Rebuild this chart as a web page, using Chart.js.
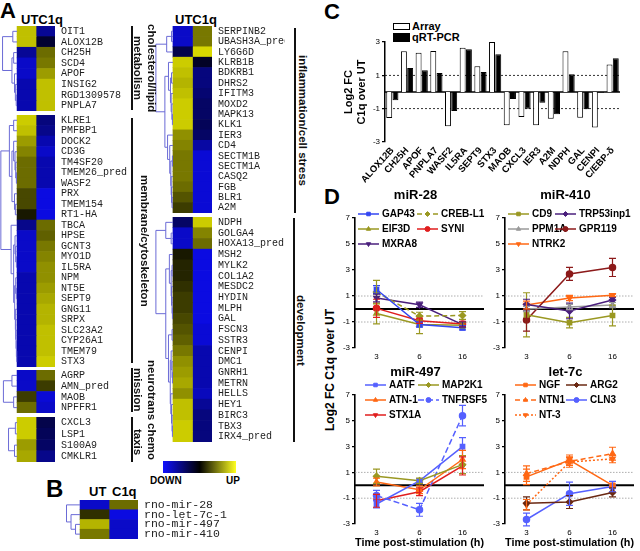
<!DOCTYPE html>
<html>
<head>
<meta charset="utf-8">
<script src="https://cdn.jsdelivr.net/npm/chart.js@4.4.1/dist/chart.umd.min.js"></script>
<style>
  body { margin: 0; background: #fff; width: 640px; height: 551px; position: relative; overflow: hidden; font-family: "Liberation Sans", Arial, sans-serif; color: #000; }
  canvas { position: absolute; }
  .t { position: absolute; font-weight: bold; white-space: nowrap; line-height: 1; color: #000; }
  .letter { font-size: 22px; }
  .vline { position: absolute; width: 2px; background: #111; }
  .vt { position: absolute; writing-mode: vertical-rl; font-weight: bold; font-size: 11.5px; line-height: 14px; text-align: center; white-space: nowrap; color: #111; }
  .box { position: absolute; border: 1px solid #000; }
</style>
</head>
<body>

<!-- Panel A -->
<div class="t letter" style="left:0;top:0;">A</div>
<div class="t" style="left:21px;top:13px;font-size:13px;">UTC1q</div>
<div class="t" style="left:175px;top:13px;font-size:13px;">UTC1q</div>
<canvas id="hmChol" width="135" height="85" style="left:0;top:26px;"></canvas>
<canvas id="hmMemb" width="135" height="252" style="left:0;top:115px;"></canvas>
<canvas id="hmNeuro" width="135" height="43" style="left:0;top:370px;"></canvas>
<canvas id="hmChemo" width="135" height="45" style="left:0;top:417px;"></canvas>
<canvas id="hmInfl" width="130" height="187" style="left:155px;top:26px;"></canvas>
<canvas id="hmDev" width="130" height="225" style="left:155px;top:217px;"></canvas>

<div class="vline" style="left:131px;top:26px;height:84px;"></div>
<div class="vt" style="left:131px;top:16px;height:104px;">cholesterol/lipid<br>metabolism</div>
<div class="vline" style="left:131px;top:118px;height:245px;"></div>
<div class="vt" style="left:138px;top:118px;height:245px;">membrane/cytoskeleton</div>
<div class="vline" style="left:131px;top:368px;height:44px;"></div>
<div class="vt" style="left:131px;top:354px;height:72px;">neurotrans<br>mission</div>
<div class="vline" style="left:131px;top:417px;height:45px;"></div>
<div class="vt" style="left:131px;top:417px;height:50px;">chemo<br>taxis</div>
<div class="vline" style="left:294px;top:28px;height:185px;"></div>
<div class="vt" style="left:296px;top:28px;height:185px;">inflammation/cell stress</div>
<div class="vline" style="left:293px;top:218px;height:224px;"></div>
<div class="vt" style="left:294px;top:218px;height:224px;">development</div>

<div style="position:absolute;left:163px;top:461px;width:73px;height:12px;background:linear-gradient(to right,#1010ff,#000 50%,#ffff20);"></div>
<div class="t" style="left:150px;top:476px;font-size:10px;">DOWN</div>
<div class="t" style="left:226px;top:476px;font-size:10px;">UP</div>

<!-- Panel B -->
<div class="t" style="left:46px;top:477px;font-size:24px;">B</div>
<div class="t" style="left:89px;top:485px;font-size:13px;">UT</div>
<div class="t" style="left:112px;top:485px;font-size:13px;">C1q</div>
<canvas id="hmMirna" width="180" height="39" style="left:65px;top:500px;"></canvas>

<!-- Panel C -->
<div class="t letter" style="left:324px;top:1px;">C</div>
<div class="box" style="left:393px;top:23px;width:15px;height:5px;background:#fff;"></div>
<div class="t" style="left:412px;top:21px;font-size:11px;">Array</div>
<div class="box" style="left:393px;top:33px;width:15px;height:7px;background:#000;"></div>
<div class="t" style="left:412px;top:32px;font-size:11px;">qRT-PCR</div>
<canvas id="chartC" width="300" height="165" style="left:330px;top:18px;"></canvas>

<!-- Panel D -->
<div class="t letter" style="left:324px;top:186px;">D</div>
<div class="t" style="left:323px;top:300px;height:140px;width:14px;writing-mode:vertical-rl;transform:rotate(180deg);text-align:center;font-size:12px;line-height:14px;">Log2 FC C1q over UT</div>
<canvas id="chartMir28" width="155" height="175" style="left:335px;top:185px;"></canvas>
<canvas id="chartMir410" width="155" height="175" style="left:485px;top:185px;"></canvas>
<canvas id="chartMir497" width="155" height="189" style="left:335px;top:362px;"></canvas>
<canvas id="chartLet7c" width="155" height="189" style="left:485px;top:362px;"></canvas>

<script>
// ---- Panel A / B heatmap data (relative expression, -1 = down, 1 = up) ----
const genesChol = ['OIT1', 'ALOX12B', 'CH25H', 'SCD4', 'APOF', 'INSIG2', 'RGD1309578', 'PNPLA7'];
const utChol = [0.8, 0.8, -0.6, -0.8, -0.8, -0.7, -0.7, -0.7];
const c1qChol = [-0.6, -0.2, 0.45, 0.5, 0.65, 0.8, 0.8, 0.8];

const genesMemb = ['KLRE1', 'PMFBP1', 'DOCK2', 'CD3G', 'TM4SF20', 'TMEM26_pred', 'WASF2', 'PRX', 'TMEM154', 'RT1-HA',
  'TBCA', 'HPSE', 'GCNT3', 'MYO1D', 'IL5RA', 'NPM', 'NT5E', 'SEPT9', 'GNG11', 'SRPX', 'SLC23A2', 'CYP26A1', 'TMEM79', 'STX3'];
const utMemb = [0.85, 0.8, 0.65, 0.55, 0.45, 0.45, 0.45, 0.3, 0.3, 0.1,
  -0.55, -0.8, -0.8, -0.8, -0.8, -0.7, -0.7, -0.7, -0.7, -0.7, -0.7, -0.7, -0.7, -0.7];
const c1qMemb = [-0.5, -0.55, -0.7, -0.8, -0.7, -0.7, -0.7, -0.9, -0.9, -0.9,
  0.45, 0.4, 0.5, 0.55, 0.6, 0.6, 0.65, 0.7, 0.75, 0.75, 0.8, 0.8, 0.8, 0.85];

const genesNeuro = ['AGRP', 'AMN_pred', 'MAOB', 'NPFFR1'];
const utNeuro = [-0.8, -0.8, 0.25, 0.45];
const c1qNeuro = [0.45, 0.25, -0.85, -0.8];

const genesChemo = ['CXCL3', 'LSP1', 'S100A9', 'CMKLR1'];
const utChemo = [0.85, 0.85, 0.65, 0.7];
const c1qChemo = [-0.3, -0.35, -0.4, -0.55];

const genesInfl = ['SERPINB2', 'UBASH3A_pred', 'LY6G6D', 'KLRB1B', 'BDKRB1', 'DHRS2', 'IFITM3', 'MOXD2', 'MAPK13',
  'KLK1', 'IER3', 'CD4', 'SECTM1B', 'SECTM1A', 'CASQ2', 'FGB', 'BLR1', 'A2M'];
const utInfl = [-0.8, -0.8, -0.3, 0.85, 0.8, 0.75, 0.8, 0.85, 0.85, 0.85, 0.6, 0.55, 0.5, 0.5, 0.5, 0.45, 0.35, 0.25];
const c1qInfl = [0.5, 0.5, 0.9, -0.15, -0.5, -0.5, -0.45, -0.4, -0.4, -0.35, -0.4, -0.65, -0.85, -0.85, -0.85, -0.85, -0.85, -0.85];

const genesDev = ['NDPH', 'GOLGA4', 'HOXA13_pred', 'MSH2', 'MYLK2', 'COL1A2', 'MESDC2', 'HYDIN', 'MLPH', 'GAL', 'FSCN3',
  'SSTR3', 'CENPI', 'DMC1', 'GNRH1', 'METRN', 'HELLS', 'HEY1', 'BIRC3', 'TBX3', 'IRX4_pred'];
const utDev = [-0.4, -0.8, -0.8, 0.1, 0.15, 0.15, 0.2, 0.25, 0.25, 0.3, 0.35, 0.4, 0.5, 0.6, 0.65, 0.7, 0.6, 0.8, 0.8, 0.85, 0.85];
const c1qDev = [0.85, 0.55, 0.45, -0.9, -0.9, -0.9, -0.9, -0.9, -0.9, -0.9, -0.85, -0.85, -0.7, -0.7, -0.7, -0.7, -0.75, -0.6, -0.5, -0.5, -0.5];

const mirnas = ['rno-mir-28', 'rno-let-7c-1', 'rno-mir-497', 'rno-mir-410'];
const utMirna = [-0.8, 0.2, 0.75, 0.5];
const c1qMirna = [0.45, -0.9, -0.8, -0.8];

// cluster trees: [left, right, height 0..1], leaves are row indices
const treeChol = [[0, 1, 0.25], [[2, 3, 0.2], [4, [5, [6, 7, 0.05], 0.1], 0.15], 0.3], 0.85];
const treeMemb = [
  [[0, 1, 0.2], [[2, [3, [4, [5, 6, 0.04], 0.08], 0.12], 0.2], [7, [8, 9, 0.1], 0.15], 0.3], 0.45],
  [10, [[11, [12, [13, 14, 0.04], 0.08], 0.12], [[15, [16, 17, 0.04], 0.08], [18, [19, [20, [21, [22, 23, 0.02], 0.04], 0.06], 0.08], 0.1], 0.14], 0.2], 0.35],
  0.95];
const treeNeuro = [[0, 1, 0.3], [2, 3, 0.2], 0.8];
const treeChemo = [[0, 1, 0.1], [2, 3, 0.15], 0.5];
const treeInfl = [[[0, 1, 0.08], 2, 0.35],
  [[3, [[4, 5, 0.08], [6, [7, [8, 9, 0.03], 0.06], 0.1], 0.14], 0.25], [10, [11, [[12, 13, 0.03], [14, [15, [16, 17, 0.05], 0.08], 0.1], 0.12], 0.18], 0.3], 0.45],
  0.95];
const treeDev = [[0, [1, 2, 0.1], 0.4],
  [[3, [[4, 5, 0.05], [6, [7, [8, 9, 0.03], 0.05], 0.08], 0.1], 0.2], [[10, 11, 0.05], [[12, [13, [14, 15, 0.03], 0.05], 0.1], [16, [17, [18, [19, 20, 0.03], 0.05], 0.08], 0.12], 0.15], 0.25], 0.4],
  0.95];
const treeMirna = [0, [1, [2, 3, 0.3], 0.6], 0.9];

// ---- Panel C data ----
const validationGenes = ['ALOX12B', 'CH25H', 'APOF', 'PNPLA7', 'WASF2', 'IL5RA', 'SEPT9', 'STX3', 'MAOB', 'CXCL3',
  'IER3', 'A2M', 'NDPH', 'GAL', 'CENPI', 'C/EBP-\u03b4'];
const arrayFC = [-1.56, 2.44, 2.36, 2.46, -2.06, 2.66, 1.55, 3.0, -2.0, -1.5, -2.0, -1.6, 2.45, -1.55, -2.13, 1.65];
const qpcrFC = [-0.5, 1.44, 1.3, 1.14, -1.14, 2.56, 1.2, 2.27, -0.42, -1.0, -0.64, -1.33, 1.07, -1.04, -0.05, 2.03];
const cTicks = [-3, -1, 1, 3];

// ---- Panel D data ----
const timeLabels = ['3', '6', '16'];

const mir28Genes = ['GAP43', 'CREB-L1', 'EIF3D', 'SYNI', 'MXRA8'];
const mir28Values = [[1.5, -1.2, -1.45], [1.3, -0.55, -0.5], [-0.35, -1.2, -1.25], [0.05, -0.9, -1.15], [0.85, 0.33, -1.2]];
const mir28Errors = [[0.3, 0.2, 0.15], [0.9, 0.3, 0.3], [0.8, 0.7, 0.2], [0.7, 0.2, 0.2], [0.3, 0.2, 0.2]];

const mir410Genes = ['CD9', 'TRP53inp1', 'PPM1A', 'GPR119', 'NTRK2'];
const mir410Values = [[-0.45, -1.05, -0.5], [0.35, -0.15, 0.7], [0.0, 0.15, 0.3], [-0.85, 2.7, 3.2], [0.3, 0.85, 1.05]];
const mir410Errors = [[1.7, 0.4, 0.8], [0.4, 0.6, 0.2], [0.2, 0.2, 0.2], [0.85, 0.5, 0.7], [0.3, 0.2, 0.1]];

const mir497Genes = ['AATF', 'MAP2K1', 'ATN-1', 'TNFRSF5', 'STX1A'];
const mir497Values = [[-1.45, 0.35, 3.0], [0.7, 0.35, 1.6], [0.25, -0.35, 2.0], [-0.8, -1.9, 5.4], [-1.2, -0.5, 1.5]];
const mir497Errors = [[0.3, 0.15, 0.7], [0.55, 0.2, 0.7], [0.3, 0.3, 0.7], [0.4, 0.5, 0.8], [0.5, 0.3, 0.7]];

const let7cGenes = ['NGF', 'ARG2', 'NTN1', 'CLN3', 'NT-3'];
const let7cValues = [[0.65, 1.95, 0.0], [-1.4, -1.3, -0.55], [0.9, 1.85, 2.45], [-2.65, -0.65, -0.1], [-1.5, 1.8, 2.05]];
const let7cErrors = [[0.6, 0.4, 0.1], [0.5, 0.5, 0.35], [0.6, 0.3, 0.5], [0.5, 0.9, 0.4], [0.4, 0.4, 0.3]];
const dTicks = [-3, -1, 1, 3, 5, 7];

Chart.defaults.font.family = "'Liberation Sans', Arial, sans-serif";
Chart.defaults.color = '#000';
Chart.defaults.animation = false;
Chart.defaults.responsive = false;
Chart.defaults.plugins.legend.display = false;
Chart.defaults.plugins.tooltip.enabled = false;

function heatColor(v) {
  if (v < 0) {
    const b = Math.round(250 * -v);
    const g = Math.round(12 * -v);
    return `rgb(${g},${g},${b})`;
  }
  const y = Math.round(240 * v);
  return `rgb(${y},${y},0)`;
}

function dendrogram(tree) {
  return {
    id: 'dendro',
    afterDatasetsDraw(chart) {
      const { ctx, scales: { x, y } } = chart;
      const x0 = x.getPixelForValue(0);
      const xm = x.getPixelForValue(x.min);
      ctx.save();
      ctx.strokeStyle = '#6b6bd6';
      ctx.lineWidth = 1;
      const walk = (node) => {
        if (typeof node === 'number') return { px: x0, py: y.getPixelForValue(node) };
        const a = walk(node[0]);
        const b = walk(node[1]);
        const px = x0 + (xm - x0) * node[2];
        ctx.beginPath();
        ctx.moveTo(a.px, a.py);
        ctx.lineTo(px, a.py);
        ctx.lineTo(px, b.py);
        ctx.lineTo(b.px, b.py);
        ctx.stroke();
        return { px, py: (a.py + b.py) / 2 };
      };
      walk(tree);
      ctx.restore();
    }
  };
}

function makeHeatmap(id, genes, ut, c1q, tree, xMin, axisWidth, fontSize) {
  const cell = { grouped: false, categoryPercentage: 1, barPercentage: 1, borderWidth: 0 };
  new Chart(document.getElementById(id), {
    type: 'bar',
    data: {
      labels: genes,
      datasets: [
        { ...cell, data: genes.map(() => [0, 1]), backgroundColor: ut.map(heatColor) },
        { ...cell, data: genes.map(() => [1, 2]), backgroundColor: c1q.map(heatColor) }
      ]
    },
    options: {
      indexAxis: 'y',
      layout: { padding: 0 },
      scales: {
        x: { type: 'linear', display: false, min: xMin, max: 2 },
        y: {
          type: 'category', position: 'right',
          grid: { display: false, drawTicks: false }, border: { display: false },
          ticks: { autoSkip: false, padding: 6, color: '#222', font: { family: "'Liberation Mono', monospace", size: fontSize } },
          afterFit(s) { s.width = axisWidth; s.paddingTop = 0; s.paddingBottom = 0; }
        }
      }
    },
    plugins: [dendrogram(tree)]
  });
}

makeHeatmap('hmChol', genesChol, utChol, c1qChol, treeChol, -0.9, 80, 10);
makeHeatmap('hmMemb', genesMemb, utMemb, c1qMemb, treeMemb, -0.9, 80, 10);
makeHeatmap('hmNeuro', genesNeuro, utNeuro, c1qNeuro, treeNeuro, -0.9, 80, 10);
makeHeatmap('hmChemo', genesChemo, utChemo, c1qChemo, treeChemo, -0.9, 80, 10);
makeHeatmap('hmInfl', genesInfl, utInfl, c1qInfl, treeInfl, -0.92, 73, 10);
makeHeatmap('hmDev', genesDev, utDev, c1qDev, treeDev, -0.92, 73, 10);
makeHeatmap('hmMirna', mirnas, utMirna, c1qMirna, treeMirna, -0.52, 107, 11.5);

// horizontal reference lines (zero line and +/-1 guides)
function refLines(lines) {
  return {
    id: 'refLines',
    beforeDatasetsDraw(chart) {
      const { ctx, chartArea, scales: { y } } = chart;
      ctx.save();
      lines.forEach((l) => {
        const py = y.getPixelForValue(l.value);
        ctx.beginPath();
        ctx.strokeStyle = l.color;
        ctx.lineWidth = l.width;
        ctx.setLineDash(l.dash);
        ctx.moveTo(chartArea.left, py);
        ctx.lineTo(chartArea.right, py);
        ctx.stroke();
      });
      ctx.restore();
    }
  };
}

// Panel C
new Chart(document.getElementById('chartC'), {
  type: 'bar',
  data: {
    labels: validationGenes,
    datasets: [
      { label: 'Array', data: arrayFC, backgroundColor: '#fff', borderColor: '#000', borderWidth: 1, categoryPercentage: 0.85, barPercentage: 0.95 },
      { label: 'qRT-PCR', data: qpcrFC, backgroundColor: '#000', borderColor: '#000', borderWidth: 1, categoryPercentage: 0.85, barPercentage: 0.95 }
    ]
  },
  options: {
    layout: { padding: { top: 24, right: 10, left: 0, bottom: 0 } },
    scales: {
      x: {
        grid: { display: false, drawTicks: false }, border: { display: false },
        ticks: { autoSkip: false, minRotation: 48, maxRotation: 48, padding: 3, font: { size: 9.5, weight: 'bold' } },
        afterFit(s) { s.height = 41; }
      },
      y: {
        min: -3, max: 3,
        afterBuildTicks(s) { s.ticks = cTicks.map((v) => ({ value: v })); },
        ticks: { font: { size: 8 }, padding: 2 },
        grid: { drawOnChartArea: false, tickLength: 3, color: '#000', lineWidth: 1.2 },
        border: { color: '#000', width: 1.5 },
        title: { display: true, text: ['Log2 FC', 'C1q over UT'], font: { size: 11, weight: 'bold' }, padding: { top: 12, bottom: 0 } },
        afterFit(s) { s.width = 55; }
      }
    }
  },
  plugins: [refLines([
    { value: 1, color: '#000', width: 0.8, dash: [2, 2] },
    { value: -1, color: '#000', width: 0.8, dash: [2, 2] },
    { value: 0, color: '#000', width: 1.6, dash: [] }
  ])]
});

// Panel D
const errorBars = {
  id: 'errorBars',
  afterDatasetsDraw(chart) {
    const { ctx, scales: { y } } = chart;
    ctx.save();
    chart.data.datasets.forEach((ds, i) => {
      const meta = chart.getDatasetMeta(i);
      ctx.strokeStyle = ds.borderColor;
      ctx.lineWidth = 1.2;
      ctx.setLineDash([]);
      meta.data.forEach((pt, j) => {
        const top = y.getPixelForValue(ds.data[j] + ds.err[j]);
        const bot = y.getPixelForValue(ds.data[j] - ds.err[j]);
        ctx.beginPath();
        ctx.moveTo(pt.x, top); ctx.lineTo(pt.x, bot);
        ctx.moveTo(pt.x - 3.5, top); ctx.lineTo(pt.x + 3.5, top);
        ctx.moveTo(pt.x - 3.5, bot); ctx.lineTo(pt.x + 3.5, bot);
        ctx.stroke();
      });
    });
    ctx.restore();
  }
};

function lineLegend(title, cols, top) {
  return {
    id: 'lineLegend',
    afterDraw(chart) {
      const { ctx, chartArea } = chart;
      ctx.save();
      ctx.fillStyle = '#000';
      ctx.font = "bold 13px 'Liberation Sans', Arial";
      ctx.textAlign = 'center';
      ctx.textBaseline = 'middle';
      ctx.fillText(title, (chartArea.left + chartArea.right) / 2 - 4, 10);
      ctx.font = "bold 10px 'Liberation Sans', Arial";
      ctx.textAlign = 'left';
      chart.data.datasets.forEach((ds, i) => {
        const x = chartArea.left + cols[i % 2];
        const yy = top + Math.floor(i / 2) * 15;
        ctx.strokeStyle = ds.borderColor;
        ctx.lineWidth = 1.5;
        ctx.setLineDash(ds.borderDash || []);
        ctx.beginPath();
        ctx.moveTo(x, yy); ctx.lineTo(x + 21, yy);
        ctx.stroke();
        ctx.setLineDash([]);
        ctx.lineWidth = 1;
        ctx.fillStyle = ds.borderColor;
        Chart.helpers.drawPoint(ctx, { pointStyle: ds.pointStyle, rotation: ds.pointRotation || 0, radius: 2.5, borderWidth: 1 }, x + 10.5, yy);
        ctx.fillStyle = '#000';
        ctx.fillText(ds.label, x + 24, yy + 0.5);
      });
      ctx.restore();
    }
  };
}

function makeTimeCourse(id, title, genes, values, errors, colors, shapes, dashes, cols, legendTop, xTitle) {
  const datasets = genes.map((g, i) => ({
    label: g,
    data: values[i],
    err: errors[i],
    borderColor: colors[i],
    backgroundColor: colors[i],
    borderWidth: 1.5,
    borderDash: dashes[i],
    pointStyle: shapes[i] === 'down' ? 'triangle' : shapes[i],
    pointRotation: shapes[i] === 'down' ? 180 : 0,
    pointRadius: 3,
    tension: 0,
    clip: false
  }));
  new Chart(document.getElementById(id), {
    type: 'line',
    data: { labels: timeLabels, datasets },
    options: {
      layout: { padding: { top: 33, right: 6, left: 0, bottom: 0 } },
      scales: {
        x: {
          offset: true,
          grid: { display: false, drawTicks: false }, border: { display: false },
          ticks: { padding: 4, font: { size: 8 } },
          title: { display: !!xTitle, text: xTitle, font: { size: 11.5, weight: 'bold' }, padding: { top: 0, bottom: 1 } },
          afterFit(s) { s.height = xTitle ? 27 : 12; s.paddingLeft = 0; s.paddingRight = 0; }
        },
        y: {
          min: -3, max: 7,
          afterBuildTicks(s) { s.ticks = dTicks.map((v) => ({ value: v })); },
          ticks: { font: { size: 8 }, padding: 2 },
          grid: { drawOnChartArea: false, tickLength: 3, color: '#000', lineWidth: 1.2 },
          border: { color: '#000', width: 1.6 },
          afterFit(s) { s.width = 20; s.paddingTop = 0; s.paddingBottom = 0; }
        }
      }
    },
    plugins: [
      refLines([
        { value: 1, color: '#999', width: 0.8, dash: [1.5, 1.5] },
        { value: -1, color: '#999', width: 0.8, dash: [1.5, 1.5] },
        { value: 0, color: '#000', width: 2, dash: [] }
      ]),
      errorBars,
      lineLegend(title, cols, legendTop)
    ]
  });
}

const blue = '#3346f2';
const lightBlue = '#5560ff';
const olive = '#9a9822';
const red = '#e01e1e';
const purple = '#4a1f7c';
const grey = '#9a9a9a';
const darkRed = '#8c1a1a';
const orange = '#ff6814';
const brown = '#6a2812';

makeTimeCourse('chartMir28', 'miR-28', mir28Genes, mir28Values, mir28Errors,
  [blue, olive, olive, red, purple], ['rect', 'rectRot', 'triangle', 'circle', 'down'],
  [[], [5, 3], [], [], []], [3, 62], 29, '');
makeTimeCourse('chartMir410', 'miR-410', mir410Genes, mir410Values, mir410Errors,
  [olive, purple, grey, darkRed, orange], ['rect', 'rectRot', 'triangle', 'circle', 'down'],
  [[], [], [], [], []], [3, 50], 29, '');
makeTimeCourse('chartMir497', 'miR-497', mir497Genes, mir497Values, mir497Errors,
  [lightBlue, olive, orange, lightBlue, red], ['rect', 'rectRot', 'triangle', 'circle', 'down'],
  [[], [], [], [6, 3], []], [10, 63], 23, 'Time post-stimulation (h)');
makeTimeCourse('chartLet7c', 'let-7c', let7cGenes, let7cValues, let7cErrors,
  [orange, brown, orange, lightBlue, orange], ['rect', 'rectRot', 'triangle', 'circle', 'down'],
  [[], [], [5, 3], [], [2, 2]], [10, 61], 23, 'Time post-stimulation (h)');
</script>
</body>
</html>
